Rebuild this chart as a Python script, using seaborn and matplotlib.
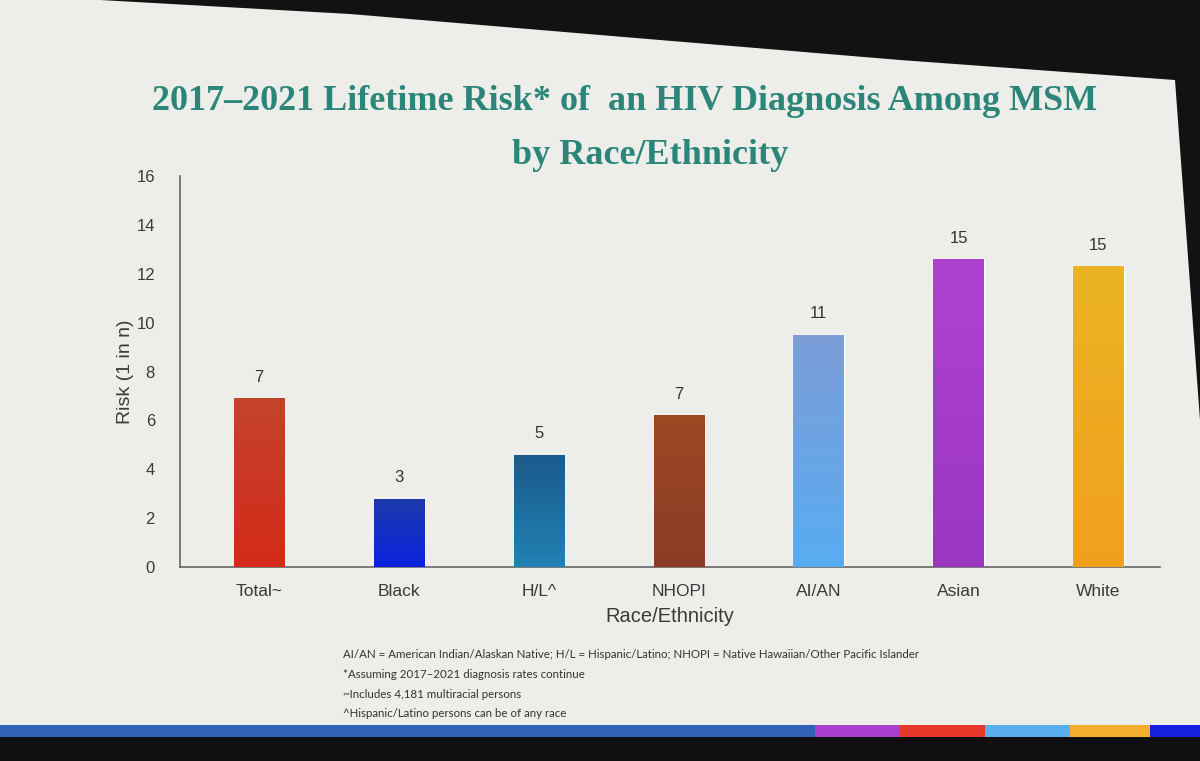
import numpy as np
import pandas as pd
import matplotlib
matplotlib.use("Agg")
import matplotlib.pyplot as plt
import seaborn as sns
from matplotlib.patches import Polygon, Rectangle
from matplotlib.colors import LinearSegmentedColormap

# ---- data ----
categories = ["Total~", "Black", "H/L^", "NHOPI", "AI/AN", "Asian", "White"]
bar_heights = [6.9, 2.8, 4.6, 6.2, 9.5, 12.6, 12.3]
value_labels = ["7", "3", "5", "7", "11", "15", "15"]
yticks = [0, 2, 4, 6, 8, 10, 12, 14, 16]
top_colors = ["#c4432a", "#1c3aa8", "#1a5a8c", "#9c4822", "#7d9ed8", "#b042d2", "#eab424"]
bottom_colors = ["#d42a1a", "#0a22e0", "#2282b4", "#8a3c26", "#58acf2", "#9a36c0", "#f2a01c"]
title_line1 = "2017\u20132021 Lifetime Risk* of  an HIV Diagnosis Among MSM"
title_line2 = "by Race/Ethnicity"
footnotes = [
    "AI/AN = American Indian/Alaskan Native; H/L = Hispanic/Latino; NHOPI = Native Hawaiian/Other Pacific Islander",
    "*Assuming 2017\u20132021 diagnosis rates continue",
    "~Includes 4,181 multiracial persons",
    "^Hispanic/Latino persons can be of any race",
]

df = pd.DataFrame({"group": categories, "risk": bar_heights})

sns.set_theme(style="white")
plt.rcParams["font.family"] = ["Liberation Sans", "DejaVu Sans"]

W, H = 1200, 761
fig = plt.figure(figsize=(12, 7.61), dpi=100)
fig.patch.set_facecolor("#ededea")

def fx(x):
    return x / W

def fy(y):
    return 1 - y / H

# photo frame decorations (dark surround)
top_dark = [(0, 0), (1200, 0), (1200, 420), (1175, 80), (900, 60), (600, 35),
            (350, 14), (100, 0)]
fig.add_artist(Polygon([(fx(x), fy(y)) for x, y in top_dark], closed=True,
                       transform=fig.transFigure, facecolor="#121214",
                       edgecolor="none", zorder=0))
fig.add_artist(Rectangle((0, 0), 1, fy(737), transform=fig.transFigure,
                         facecolor="#0f0f12", edgecolor="none", zorder=0))
strip = [(0, 815, "#2f62b4"), (815, 900, "#a93ed0"), (900, 985, "#e5372a"),
         (985, 1070, "#5aaef0"), (1070, 1150, "#f2ae2c"), (1150, 1200, "#1420e0")]
for x0, x1, c in strip:
    fig.add_artist(Rectangle((fx(x0), fy(737)), fx(x1 - x0), 12 / H,
                             transform=fig.transFigure, facecolor=c,
                             edgecolor="none", zorder=1))

ax = fig.add_axes([fx(180), fy(567), fx(1160 - 180), (567 - 176) / H])
ax.set_facecolor("none")

pal = dict(zip(categories, bottom_colors))
sns.barplot(data=df, x="group", y="risk", hue="group", palette=pal,
            order=categories, hue_order=categories, legend=False,
            width=0.36, saturation=1, ax=ax, zorder=2)

# vertical gradient fills clipped to each bar
for patch, cat in zip(ax.patches, categories):
    i = categories.index(cat)
    x0, y0 = patch.get_x(), patch.get_y()
    w, h = patch.get_width(), patch.get_height()
    cmap = LinearSegmentedColormap.from_list("g", [bottom_colors[i], top_colors[i]])
    grad = np.linspace(0, 1, 256).reshape(-1, 1)
    im = ax.imshow(grad, cmap=cmap, origin="lower", aspect="auto",
                   extent=[x0, x0 + w, y0, y0 + h], zorder=3)
    im.set_clip_path(patch)
    ax.text(x0 + w / 2, y0 + h + 0.55, value_labels[i], ha="center",
            va="bottom", fontsize=12, color="#333333")

ax.set_xlim(-0.565, 6.44)
ax.set_ylim(0, 16)
ax.set_yticks(yticks)
ax.set_yticklabels([str(t) for t in yticks], fontsize=12, color="#3a3a3a")
ax.tick_params(axis="x", labelsize=12.5, colors="#3a3a3a", pad=12, length=0)
ax.tick_params(axis="y", pad=18, length=0)
ax.set_xlabel("Race/Ethnicity", fontsize=14.5, color="#3a3a3a", labelpad=6)
ax.set_ylabel("Risk (1 in n)", fontsize=14, color="#3a3a3a", labelpad=2)
sns.despine(ax=ax, top=True, right=True)
for s in ["left", "bottom"]:
    ax.spines[s].set_color("#666666")
    ax.spines[s].set_linewidth(1.2)

serif = ["Liberation Serif", "DejaVu Serif"]
fig.text(fx(625), fy(102), title_line1, ha="center", va="center",
         fontsize=26, fontweight="bold", color="#2b8679", family=serif)
fig.text(fx(650), fy(156), title_line2, ha="center", va="center",
         fontsize=26, fontweight="bold", color="#2b8679", family=serif)

for k, line in enumerate(footnotes):
    fig.text(fx(343), fy(655 + 19.5 * k), line, ha="left", va="center",
             fontsize=8.3, color="#333333", family=["Lato", "DejaVu Sans"])

fig.savefig("out.png", dpi=100, facecolor=fig.get_facecolor())
